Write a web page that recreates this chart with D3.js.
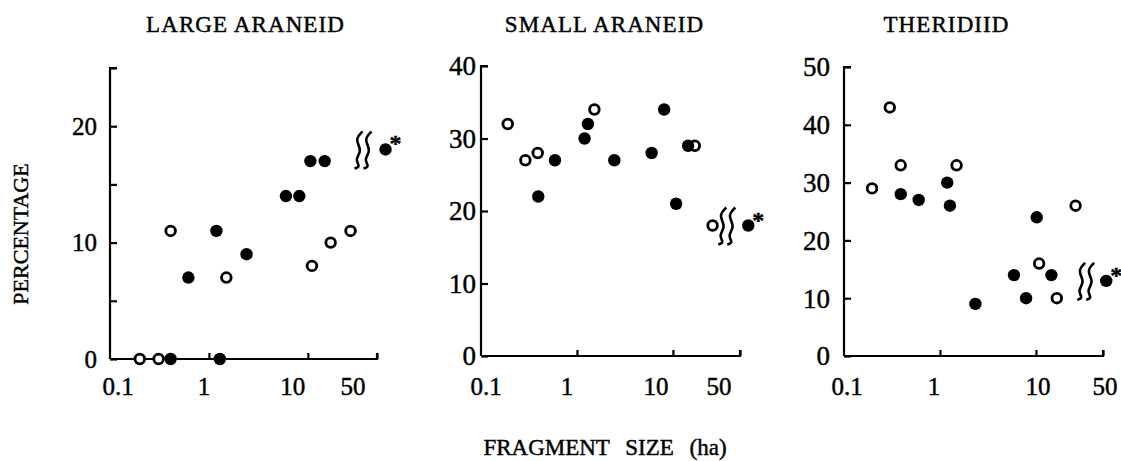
<!DOCTYPE html>
<html>
<head>
<meta charset="utf-8">
<script src="https://cdn.jsdelivr.net/npm/d3@7"></script>
<style>
  html, body { margin: 0; padding: 0; background: #fff; }
  svg { display: block; }
  text { font-family: "Liberation Serif", "Times New Roman", serif; fill: #000; stroke: #000; stroke-width: 0.45px; }
</style>
</head>
<body>
<svg id="chart" width="1121" height="461"></svg>
<script>
// ---------- DATA ----------
const panelTitles = ["LARGE ARANEID", "SMALL ARANEID", "THERIDIID"];
const xTickValues = [0.1, 1, 10, 50];
const xTickLabels = ["0.1", "1", "10", "50"];
const yAxisMax = [25, 40, 50];
const yTicksLarge = [0, 5, 10, 15, 20, 25];
const yTicksSmall = [0, 10, 20, 30, 40];
const yTicksTherid = [0, 10, 20, 30, 40, 50];
const yLabelsLarge = [0, 10, 20];
const yLabelsSmall = [0, 10, 20, 30, 40];
const yLabelsTherid = [0, 10, 20, 30, 40, 50];

// fragment size (ha), percentage
const largeOpenX = [0.2, 0.31, 0.41, 1.5, 11, 17, 27];
const largeOpenY = [0, 0, 11, 7, 8, 10, 11];
const largeFilledX = [0.41, 0.62, 1.19, 1.29, 2.4, 6, 8.2, 10.6, 14.8];
const largeFilledY = [0, 7, 11, 0, 9, 14, 14, 17, 17];
const largeStarX = [61];
const largeStarY = [18];

const smallOpenX = [0.19, 0.29, 0.39, 1.52, 16.9, 25.9];
const smallOpenY = [32, 27, 28, 34, 29, 18];
const smallFilledX = [0.395, 0.59, 1.2, 1.3, 2.45, 6.0, 8.1, 10.8, 14.4];
const smallFilledY = [22, 27, 30, 32, 27, 28, 34, 21, 29];
const smallStarX = [61];
const smallStarY = [18];

const theridOpenX = [0.196, 0.30, 0.39, 1.49, 10.8, 16.5, 25.9];
const theridOpenY = [29, 43, 33, 33, 16, 10, 26];
const theridFilledX = [0.39, 0.60, 1.19, 1.27, 2.34, 5.9, 7.9, 10.2, 14.5];
const theridFilledY = [28, 27, 30, 26, 9, 14, 10, 24, 14];
const theridStarX = [54];
const theridStarY = [13];

const xAxisTitle = "FRAGMENT SIZE (ha)";
const yAxisTitle = "PERCENTAGE";

// ---------- LAYOUT (styles / positions) ----------
const layout = [
  { left: 110, right: 377, top: 68, bottom: 359, titleDx: 2, yLabelGap: 13, xLabelShift: [8, -5, -15, -24], yFont: 25, waveOff: [-27, -18] },
  { left: 481, right: 740, top: 66, bottom: 356, titleDx: -6, yLabelGap: 5, xLabelShift: [5, -10, -17, -21], yFont: 27, waveOff: [-26, -17] },
  { left: 844, right: 1103, top: 67, bottom: 356, titleDx: -27, yLabelGap: 14, xLabelShift: [3, -6, 2, 2], yFont: 27, waveOff: [-25, -16] }
];

const panels = [
  { title: panelTitles[0], ymax: yAxisMax[0], yTicks: yTicksLarge, yLabels: yLabelsLarge,
    open: largeOpenX.map((x, i) => [x, largeOpenY[i]]),
    filled: largeFilledX.map((x, i) => [x, largeFilledY[i]]),
    star: largeStarX.map((x, i) => [x, largeStarY[i]]) },
  { title: panelTitles[1], ymax: yAxisMax[1], yTicks: yTicksSmall, yLabels: yLabelsSmall,
    open: smallOpenX.map((x, i) => [x, smallOpenY[i]]),
    filled: smallFilledX.map((x, i) => [x, smallFilledY[i]]),
    star: smallStarX.map((x, i) => [x, smallStarY[i]]) },
  { title: panelTitles[2], ymax: yAxisMax[2], yTicks: yTicksTherid, yLabels: yLabelsTherid,
    open: theridOpenX.map((x, i) => [x, theridOpenY[i]]),
    filled: theridFilledX.map((x, i) => [x, theridFilledY[i]]),
    star: theridStarX.map((x, i) => [x, theridStarY[i]]) }
];

const svg = d3.select("#chart");

panels.forEach((p, k) => {
  const L = layout[k];
  const x = d3.scaleLog().domain([0.1, 50]).range([L.left, L.right]);
  const y = d3.scaleLinear().domain([0, p.ymax]).range([L.bottom, L.top]);
  const g = svg.append("g");

  // title
  g.append("text")
    .attr("x", (L.left + L.right) / 2 + L.titleDx)
    .attr("y", 32)
    .attr("text-anchor", "middle")
    .style("font-size", "23px")
    .style("letter-spacing", "1.1px")
    .text(p.title);

  // y axis (ticks pointing inward)
  const yAxis = d3.axisRight(y).tickValues(p.yTicks).tickSize(7).tickFormat("");
  const ya = g.append("g").attr("transform", `translate(${L.left},0)`).call(yAxis);
  ya.select(".domain").attr("d", `M${7},${L.top}H0V${L.bottom}`);
  ya.selectAll("path, line").attr("stroke", "#000").attr("stroke-width", 2.2);

  g.selectAll(".ylab").data(p.yLabels).enter().append("text")
    .attr("x", L.left - L.yLabelGap)
    .attr("y", d => y(d))
    .attr("dy", "0.35em")
    .attr("text-anchor", "end")
    .style("font-size", L.yFont + "px")
    .text(d => d);

  // x axis (ticks pointing upward)
  const xAxis = d3.axisTop(x).tickValues(xTickValues.slice(1)).tickSize(6).tickFormat("");
  const xa = g.append("g").attr("transform", `translate(0,${L.bottom})`).call(xAxis);
  xa.select(".domain").attr("d", `M${L.left},0H${L.right}V-6`);
  xa.selectAll("path, line").attr("stroke", "#000").attr("stroke-width", 2.2);

  g.selectAll(".xlab").data(xTickValues).enter().append("text")
    .attr("x", (d, i) => x(d) + L.xLabelShift[i])
    .attr("y", 395)
    .attr("text-anchor", "middle")
    .style("font-size", "25px")
    .text((d, i) => xTickLabels[i]);

  // points
  g.selectAll(".open").data(p.open).enter().append("circle")
    .attr("cx", d => x(d[0])).attr("cy", d => y(d[1]))
    .attr("r", 4.8).attr("fill", "#fff").attr("stroke", "#000").attr("stroke-width", 2.8);

  g.selectAll(".filled").data(p.filled).enter().append("circle")
    .attr("cx", d => x(d[0])).attr("cy", d => y(d[1]))
    .attr("r", 6.2).attr("fill", "#000");

  // outlier beyond axis with break symbol and asterisk
  const wave = d3.line().curve(d3.curveBasis);
  p.star.forEach(d => {
    const cx = x(d[0]), cy = y(d[1]);
    g.append("circle").attr("cx", cx).attr("cy", cy).attr("r", 6.2).attr("fill", "#000");
    g.append("text").attr("x", cx + 4).attr("y", cy + 2)
      .style("font-size", "24px").style("font-weight", "bold").text("*");
    L.waveOff.forEach(off => {
      const bx = cx + off;
      const pts = [[bx + 4, cy - 18], [bx - 4, cy - 10], [bx + 4, cy + 1], [bx - 4, cy + 10], [bx + 2, cy + 17], [bx - 4, cy + 19]];
      g.append("path").attr("d", wave(pts)).attr("fill", "none")
        .attr("stroke", "#000").attr("stroke-width", 2.6);
    });
  });
});

// shared axis titles
svg.append("text")
  .attr("transform", "translate(28,234) rotate(-90)")
  .attr("text-anchor", "middle")
  .style("font-size", "22px")
  .text(yAxisTitle);

svg.append("text")
  .attr("x", 605).attr("y", 455)
  .attr("text-anchor", "middle")
  .style("font-size", "23px")
  .style("word-spacing", "10px")
  .text(xAxisTitle);
</script>
</body>
</html>
